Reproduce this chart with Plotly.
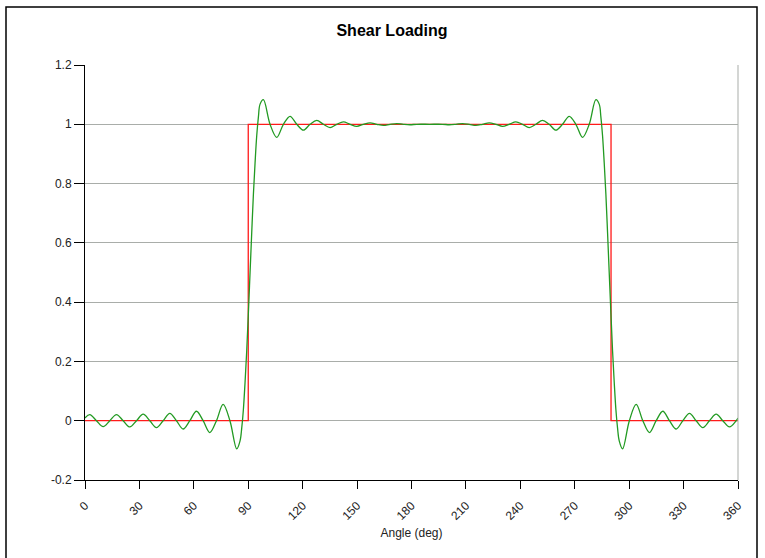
import plotly.graph_objects as go

# ---- data ----
green_angle = [
    0, 2.65, 6.33, 10.0, 13.68, 17.35, 21.03, 24.7, 28.38, 32.05, 35.73, 39.4,
    43.08, 46.75, 50.43, 54.1, 57.78, 61.45, 65.13, 68.8, 72.48, 76.15, 79.9,
    83.65, 85.48, 86.4, 87.32, 88.24, 89.16, 90.08, 91.0, 91.92, 92.84, 93.76,
    94.68, 95.6, 96.52, 98.35, 102.03, 105.7, 109.38, 113.05, 116.73, 120.4,
    124.08, 127.75, 131.43, 135.1, 138.78, 142.45, 146.13, 149.8, 153.48,
    157.15, 160.83, 164.5, 168.18, 171.85, 175.53, 179.2, 182.88, 190.0,
    197.12, 200.8, 204.47, 208.15, 211.82, 215.5, 219.17, 222.85, 226.52,
    230.2, 233.87, 237.55, 241.22, 244.9, 248.57, 252.25, 255.92, 259.6,
    263.27, 266.95, 270.62, 274.3, 277.97, 281.65, 283.48, 284.4, 285.32,
    286.24, 287.16, 288.08, 289.0, 289.92, 290.84, 291.76, 292.68, 293.6,
    294.52, 296.35, 300.1, 303.85, 307.52, 311.2, 314.87, 318.55, 322.22,
    325.9, 329.57, 333.25, 336.92, 340.6, 344.27, 347.95, 351.62, 355.3,
    358.97, 360,
]
green_value = [
    0.009, 0.0205, 0, -0.020, 0, 0.0205, 0, -0.021, 0, 0.022, 0, -0.023,
    0, 0.025, 0, -0.028, 0, 0.032, 0, -0.040, 0, 0.055, 0,
    -0.095, -0.068, -0.025, 0.038, 0.130, 0.236, 0.365, 0.5, 0.635, 0.764, 0.870,
    0.962, 1.025, 1.068, 1.083, 1.0, 0.956, 1.0, 1.027, 1.0, 0.980,
    1.0, 1.013, 1.0, 0.989, 1.0, 1.008, 1.0, 0.993, 1.0,
    1.005, 1.0, 0.996, 1.0, 1.0025, 1.0, 0.9985, 1.0, 1.0,
    1.0, 0.9985, 1.0, 1.0025, 1.0, 0.996, 1.0, 1.005, 1.0,
    0.993, 1.0, 1.008, 1.0, 0.989, 1.0, 1.013, 1.0, 0.980,
    1.0, 1.027, 1.0, 0.956, 1.0, 1.083, 1.068, 1.025, 0.962,
    0.870, 0.764, 0.635, 0.5, 0.365, 0.236, 0.130, 0.038, -0.025,
    -0.068, -0.095, 0, 0.055, 0, -0.040, 0, 0.032, 0,
    -0.028, 0, 0.025, 0, -0.023, 0, 0.022, 0, -0.021,
    0, 0.009,
]

red_angle = [0, 90, 90, 290, 290, 360]
red_value = [0, 0, 1, 1, 0, 0]

x_ticks = [0, 30, 60, 90, 120, 150, 180, 210, 240, 270, 300, 330, 360]
x_tick_labels = ["0", "30", "60", "90", "120", "150", "180", "210", "240",
                 "270", "300", "330", "360"]
y_ticks = [-0.2, 0, 0.2, 0.4, 0.6, 0.8, 1.0, 1.2]
y_tick_labels = ["-0.2", "0", "0.2", "0.4", "0.6", "0.8", "1", "1.2"]

title_text = "Shear Loading"
x_title = "Angle (deg)"

# ---- figure ----
fig = go.Figure()
fig.add_trace(go.Scatter(
    x=red_angle, y=red_value, mode="lines",
    line=dict(color="#ff1a1a", width=1.3), hoverinfo="skip",
))
fig.add_trace(go.Scatter(
    x=green_angle, y=green_value, mode="lines",
    line=dict(color="#229a22", width=1.3, shape="spline", smoothing=1.0),
    hoverinfo="skip",
))

font_family = "Liberation Sans, Arial, sans-serif"

fig.update_layout(
    width=765, height=558,
    margin=dict(l=85, r=27, t=65, b=78),
    paper_bgcolor="white", plot_bgcolor="white",
    showlegend=False,
    title=dict(text="<b>" + title_text + "</b>", x=392 / 765, xref="container",
               xanchor="center", y=1 - 30 / 558, yanchor="middle",
               font=dict(family=font_family, size=16, color="#000")),
    font=dict(family=font_family, size=12, color="#222"),
)

fig.update_xaxes(
    range=[0, 360], tickvals=x_ticks, ticktext=x_tick_labels,
    tickangle=-45, ticks="outside", ticklen=8, tickcolor="#000",
    ticklabelstandoff=5,
    showline=True, linecolor="#000", linewidth=1,
    showgrid=False, zeroline=False,
    title=dict(text=x_title, font=dict(size=12, color="#222"), standoff=6),
    tickfont=dict(size=12, color="#222"),
)
fig.update_yaxes(
    range=[-0.2, 1.2], tickvals=y_ticks, ticktext=y_tick_labels,
    ticks="outside", ticklen=10, tickcolor="#000",
    showline=True, linecolor="#000", linewidth=1,
    showgrid=True, gridcolor="#a9ada9", gridwidth=1, zeroline=False,
    tickfont=dict(size=12, color="#222"),
)

# right boundary of plot area (gray) and outer frame
fig.add_shape(type="line", xref="paper", yref="paper", x0=1, x1=1, y0=0, y1=1,
              line=dict(color="#a9ada9", width=1))
fig.add_shape(type="rect", xref="paper", yref="paper",
              x0=(6 - 85) / 653, x1=(757 - 85) / 653,
              y0=(480 - 562) / 415, y1=(480 - 7) / 415,
              line=dict(color="#000", width=1.5), fillcolor="rgba(0,0,0,0)",
              layer="below")

fig.write_html("out.html", config={"displayModeBar": False},
               post_script="document.body.style.margin='0px';")
